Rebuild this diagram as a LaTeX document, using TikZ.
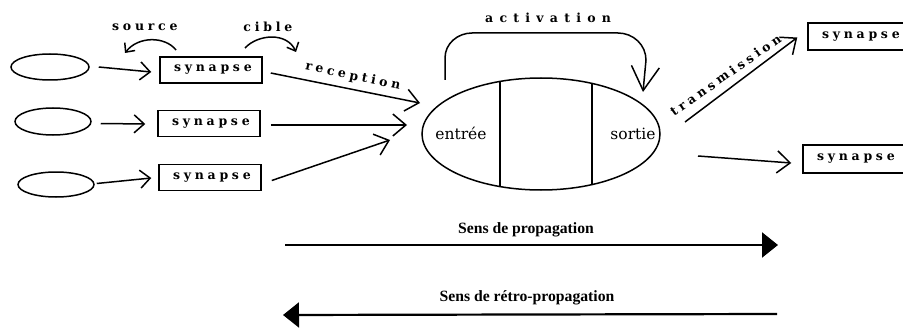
\documentclass[tikz,border=0pt]{standalone}
\usepackage{fontspec}
\usetikzlibrary{shapes.geometric,arrows.meta}
\newfontfamily\lsfont[LetterSpace=30]{DejaVu Serif}
\newfontfamily\lswide[LetterSpace=50]{DejaVu Serif}
\newfontfamily\capfont{Liberation Serif}
\newfontfamily\inoutfont{DejaVu Serif}
\newcommand\lstext[1]{{\lsfont\bfseries\fontsize{12.5}{14}\selectfont\kern0.30em#1}}
\newcommand\lswidetext[1]{{\lswide\bfseries\fontsize{12.5}{14}\selectfont\kern0.50em#1}}
\tikzset{
  oval/.style={ellipse, draw, line width=1.5pt, inner sep=0pt},
  synbox/.style={draw, line width=1.5pt, minimum width=102pt, minimum height=26pt, inner sep=0pt},
  barb/.style={line width=1.5pt, -{Straight Barb[length=10pt,width=18pt,line width=1.5pt]}},
  bigbarb/.style={line width=1.5pt, -{Straight Barb[length=13pt,width=22pt,line width=1.5pt]}},
  fatarrow/.style={line width=2.2pt, -{Triangle[length=16pt,width=25pt]}},
  lbl/.style={inner sep=0pt},
  capt/.style={inner sep=0pt, font=\capfont\bfseries\fontsize{15.7}{18}\selectfont},
  big/.style={inner sep=0pt, font=\inoutfont\fontsize{15.5}{18}\selectfont}
}
\begin{document}
\begin{tikzpicture}[x=1pt,y=-1pt]
\useasboundingbox (0,0) rectangle (903,329);
\clip (0,0) rectangle (903,329);
% input ovals
\node[oval, minimum width=78pt, minimum height=26pt] (e1) at (50,67) {};
\node[oval, minimum width=76pt, minimum height=27pt] (e2) at (53,121.5) {};
\node[oval, minimum width=76pt, minimum height=25pt] (e3) at (56,184.5) {};
% synapses
\node[synbox] (s1) at (211,70) {\lstext{synapse}};
\node[synbox] (s2) at (209,123.5) {\lstext{synapse}};
\node[synbox] (s3) at (210,177.5) {\lstext{synapse}};
\node[synbox, minimum height=27pt] (s4) at (859,36.5) {\lstext{synapse}};
\node[synbox, minimum height=28pt] (s5) at (854,159) {\lstext{synapse}};
% neuron
\node[oval, minimum width=238pt, minimum height=112pt] (n) at (541,134) {};
\begin{scope}
  \clip (n.center) ellipse [x radius=119pt, y radius=56pt];
  \draw[line width=1.5pt] (500,60) -- (500,210) (592,60) -- (592,210);
\end{scope}
\node[big] (ent) at (461,133) {entrée};
\node[big] (sor) at (633,134) {sortie};
% ellipse -> synapse arrows
\draw[barb] ([xshift=9pt]e1.east) -- ([xshift=-8pt,yshift=-2pt]s1.west);
\draw[barb] ([xshift=9pt,yshift=-2pt]e2.east) -- ([xshift=-12pt,yshift=-0.5pt]s2.west);
\draw[barb] ([xshift=2pt,yshift=1pt]e3.east) -- ([xshift=-7pt,yshift=-0.5pt]s3.west);
% source / cible
\node[lbl] (src) at (143,27) {\lstext{source}};
\node[lbl] (cib) at (266,27) {\lstext{cible}};
\coordinate (srcA) at (176,50);
\coordinate (srcB) at (125,53);
\coordinate (cibA) at (245,48);
\coordinate (cibB) at (296,52);
\draw[line width=1.5pt, -{Straight Barb[length=7pt,width=13pt,line width=1.5pt]}] (srcA) .. controls (165,36) and (138,36) .. (srcB);
\draw[line width=1.5pt, -{Straight Barb[length=7pt,width=13pt,line width=1.5pt]}] (cibA) .. controls (258,34) and (287,32) .. (cibB);
% reception arrows
\coordinate (r1) at (420,103);
\coordinate (r2) at (407,125);
\coordinate (r3) at (390,140);
\draw[bigbarb] ([xshift=8pt,yshift=-3pt]s1.east) -- (r1);
\draw[bigbarb] ([xshift=10pt,yshift=-1.5pt]s2.east) -- (r2);
\draw[bigbarb] ([xshift=10pt,yshift=-3pt]s3.east) -- (r3);
\node[lbl, rotate=-12] (rec) at (351,76) {\lstext{reception}};
% activation
\coordinate (actA) at (445,80);
\coordinate (actB) at (643,92);
\draw[line width=1.5pt, -{Straight Barb[length=24pt,width=28pt,line width=1.5pt]}] (actA) -- (445,58) to[out=90,in=180] (472,33) -- (618,33) to[out=0,in=90] (646,60) -- (actB);
\node[lbl] (act) at (545,18) {\lswidetext{activation}};
% transmission
\coordinate (t0) at (685,122);
\draw[bigbarb] (t0) -- ([xshift=-10pt,yshift=-1pt]s4.west);
\node[lbl, rotate=35] (tra) at (724,76) {\lstext{transmission}};
\coordinate (o2) at (698,156);
\draw[bigbarb] (o2) -- ([xshift=-11pt,yshift=-4pt]s5.west);
% propagation arrows
\node[capt] (prop) at (526,230) {Sens de propagation};
\node[capt] (retro) at (527,298) {Sens de rétro-propagation};
\coordinate (pA) at (285,245);
\coordinate (pB) at (778,245);
\coordinate (qA) at (777,314);
\coordinate (qB) at (283,315);
\draw[fatarrow] (pA) -- (pB);
\draw[fatarrow] (qA) -- (qB);
\end{tikzpicture}
\end{document}
